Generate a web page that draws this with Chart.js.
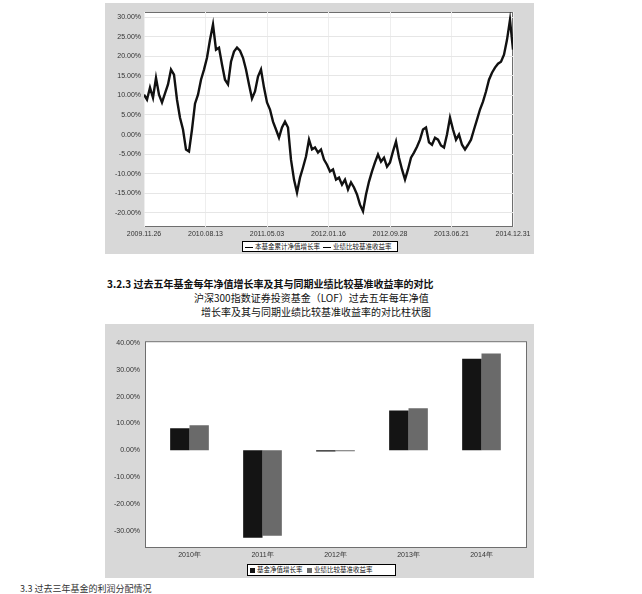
<!DOCTYPE html>
<html>
<head>
<meta charset="utf-8">
<script src="https://cdn.jsdelivr.net/npm/chart.js@4.4.1/dist/chart.umd.min.js"></script>
<style>
body{margin:0;width:642px;height:594px;background:#fff;position:relative;overflow:hidden;font-family:"Noto Sans CJK SC",sans-serif;}
.panel{position:absolute;background:#d8d8d8;}
#p1{left:105px;top:3px;width:429px;height:251px;}
#p2{left:105px;top:324px;width:429px;height:254px;}
canvas{position:absolute;left:0;top:0;}
.legend{position:absolute;background:#fff;border:1px solid #000;font-size:6.5px;line-height:9px;white-space:nowrap;color:#111;padding:0 2px;box-sizing:border-box;overflow:hidden;}
.mark{display:inline-block;vertical-align:middle;margin-right:2px;}
.txt{position:absolute;white-space:nowrap;color:#111;}
</style>
</head>
<body>

<div class="panel" id="p1">
    <canvas id="navChart" width="429" height="251"></canvas>
    <div class="legend" style="left:137px;top:238px;width:156px;height:11px;">
        <span class="mark" style="width:8px;height:1px;background:#000;"></span>本基金累计净值增长率&nbsp;
        <span class="mark" style="width:8px;height:1px;background:#000;"></span>业绩比较基准收益率
    </div>
</div>

<div class="txt" style="left:107px;top:276px;font-size:10px;font-weight:bold;">3.2.3 过去五年基金每年净值增长率及其与同期业绩比较基准收益率的对比</div>
<div class="txt" style="left:194px;top:290px;font-size:10px;">沪深300指数证券投资基金（LOF）过去五年每年净值</div>
<div class="txt" style="left:201px;top:304px;font-size:10px;">增长率及其与同期业绩比较基准收益率的对比柱状图</div>

<div class="panel" id="p2">
    <canvas id="yearChart" width="429" height="254"></canvas>
    <div class="legend" style="left:142px;top:240px;width:149px;height:12px;">
        <span class="mark" style="width:5px;height:5px;background:#141414;"></span>基金净值增长率&nbsp;&nbsp;
        <span class="mark" style="width:5px;height:5px;background:#6a6a6a;"></span>业绩比较基准收益率
    </div>
</div>

<div class="txt" style="left:20px;top:582px;font-size:9px;color:#333;">3.3 过去三年基金的利润分配情况</div>

<script>

// line chart: cumulative return (%) left to right
const navValues = [
    10.2, 8.9, 12.0, 9.4, 14.5, 10.2, 8.2, 10.5, 12.8, 16.6,
    15.3, 8.9, 4.3, 1.3, -3.8, -4.3, 1.3, 7.9, 10.2, 14.0,
    16.6, 19.6, 24.2, 28.1, 21.7, 22.2, 17.9, 14.0, 12.8, 18.6,
    21.2, 22.2, 21.4, 19.6, 16.6, 12.8, 9.2, 11.0, 14.8, 16.6,
    12.0, 8.2, 6.4, 3.3, 1.3, -0.8, 1.8, 3.3, 1.8, -6.4,
    -11.5, -14.8, -11.0, -8.4, -5.6, -1.3, -3.8, -3.3, -4.6, -3.8,
    -6.4, -7.7, -9.4, -8.9, -11.5, -11.0, -12.8, -11.5, -14.0, -12.2,
    -13.5, -15.3, -17.9, -19.6, -15.3, -12.0, -9.4, -7.1, -5.1, -6.9,
    -5.9, -8.2, -7.1, -4.3, -1.8, -5.9, -8.9, -11.5, -8.9, -5.9,
    -4.6, -3.1, -1.3, 1.3, 1.8, -2.0, -2.6, -0.8, -1.3, -2.8,
    -3.3, 0.0, 4.3, 1.3, -1.3, 0.0, -2.6, -3.8, -2.6, -1.3,
    1.3, 3.8, 6.4, 8.4, 11.0, 14.0, 15.8, 17.1, 18.1, 18.6,
    20.4, 24.2, 29.3, 21.7
];

const navDates = ["2009.11.26","2010.08.13","2011.05.03","2012.01.16","2012.09.28","2013.06.21","2014.12.31"];

const navTicks = [30,25,20,15,10,5,0,-5,-10,-15,-20];

// bar chart: yearly returns (%)
const years = ["2010年","2011年","2012年","2013年","2014年"];

const fundReturns = [8.2,-32.6,-0.4,14.9,34.2];

const benchReturns = [9.4,-31.8,-0.3,15.7,36.1];

const yearTicks = [40,30,20,10,0,-10,-20,-30];

const tickFont = {family:"Liberation Sans",size:7};

const plotFrame = {
    id:"plotFrame",
    beforeDraw(chart,args,opts){
        const a=chart.chartArea;
        const c=chart.ctx;
        const l=a.left-(opts.extraLeft||0);
        const r=a.right+(opts.extraRight||0);
        c.save();
        c.fillStyle="#fff";
        c.fillRect(l,a.top,r-l,a.bottom-a.top);
        c.strokeStyle="#6e6e6e";
        c.lineWidth=1;
        c.strokeRect(l+0.5,a.top+0.5,r-l-1,a.bottom-a.top-1);
        c.restore();
    }
};

function pct(v){
    return v.toFixed(2)+"%";
}

function drawNavChart(){

    const last=navValues.length-1;

    new Chart(document.getElementById("navChart"),{
        type:"line",
        data:{
            datasets:[{
                data:navValues.map((v,i)=>({x:i,y:v})),
                borderColor:"#111",
                borderWidth:2.4,
                pointRadius:0,
                tension:0
            }]
        },
        plugins:[plotFrame],
        options:{
            responsive:false,
            animation:false,
            layout:{padding:{top:9,right:21,left:0,bottom:0}},
            plugins:{legend:{display:false},tooltip:{enabled:false},plotFrame:{}},
            scales:{
                x:{
                    type:"linear",
                    min:0,
                    max:last,
                    afterBuildTicks:s=>{
                        s.ticks=navDates.map((d,i)=>({value:i*last/(navDates.length-1)}));
                    },
                    afterFit:s=>{s.height=27;},
                    ticks:{
                        callback:(v,i)=>navDates[i],
                        font:tickFont,
                        color:"#333",
                        padding:3,
                        maxRotation:0,
                        autoSkip:false
                    },
                    grid:{color:"#eeeeee",drawTicks:false},
                    border:{display:false}
                },
                y:{
                    min:-23.6,
                    max:31.3,
                    afterBuildTicks:s=>{
                        s.ticks=navTicks.map(v=>({value:v}));
                    },
                    afterFit:s=>{s.width=39;},
                    ticks:{
                        callback:v=>pct(v),
                        font:tickFont,
                        color:"#333",
                        padding:3
                    },
                    grid:{color:"#e6e6e6",drawTicks:false},
                    border:{display:false}
                }
            }
        }
    });
}

function drawYearChart(){

    new Chart(document.getElementById("yearChart"),{
        type:"bar",
        data:{
            labels:years,
            datasets:[
                {label:"基金净值增长率",data:fundReturns,backgroundColor:"#141414"},
                {label:"业绩比较基准收益率",data:benchReturns,backgroundColor:"#6a6a6a"}
            ]
        },
        plugins:[plotFrame],
        options:{
            responsive:false,
            animation:false,
            categoryPercentage:.53,
            barPercentage:1,
            layout:{padding:{top:7,right:16,left:0,bottom:0}},
            plugins:{legend:{display:false},tooltip:{enabled:false},plotFrame:{extraLeft:8,extraRight:9}},
            scales:{
                x:{
                    afterFit:s=>{s.height=30;},
                    ticks:{font:tickFont,color:"#333",padding:3,maxRotation:0},
                    grid:{display:false,drawTicks:false},
                    border:{display:false}
                },
                y:{
                    min:-36.4,
                    max:40.7,
                    afterBuildTicks:s=>{
                        s.ticks=yearTicks.map(v=>({value:v}));
                    },
                    afterFit:s=>{s.width=48;},
                    ticks:{
                        callback:v=>pct(v),
                        font:tickFont,
                        color:"#333",
                        padding:13
                    },
                    grid:{display:false,drawTicks:false},
                    border:{display:false}
                }
            }
        }
    });
}

drawNavChart();

drawYearChart();

</script>
</body>
</html>
